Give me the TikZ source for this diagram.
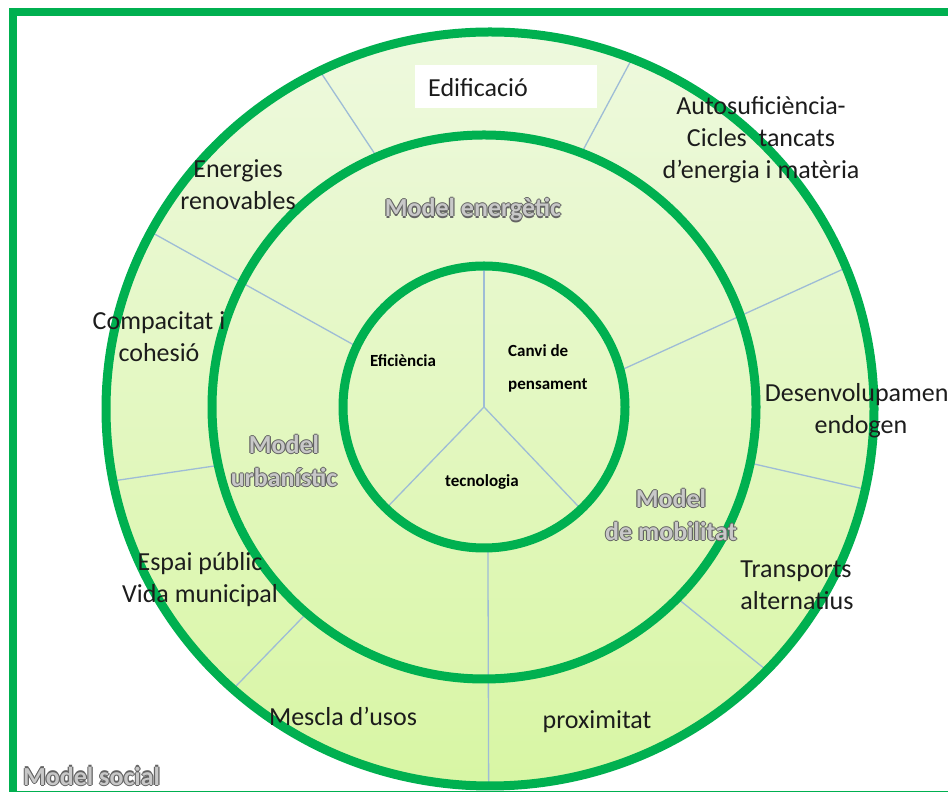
\documentclass[tikz,border=0pt]{standalone}
\usepackage{fontspec}
\setmainfont{Carlito}
\usetikzlibrary{calc}

\definecolor{ringgreen}{RGB}{0,176,80}
\definecolor{splitblue}{RGB}{158,188,214}
\definecolor{palegreen}{RGB}{238,249,222}
\definecolor{limegreen}{RGB}{216,246,164}
\definecolor{rimgray}{RGB}{100,100,100}
\definecolor{hollowgray}{RGB}{200,200,200}
\definecolor{inkblack}{RGB}{28,28,28}

% grey letters with a darker rim
\newcommand\hollow[1]{%
  \leavevmode
  \rlap{\textcolor{rimgray}{\kern-1.2pt#1}}%
  \rlap{\textcolor{rimgray}{\kern1.2pt#1}}%
  \rlap{\textcolor{rimgray}{\raisebox{1.2pt}{#1}}}%
  \rlap{\textcolor{rimgray}{\raisebox{-1.2pt}{#1}}}%
  \textcolor{hollowgray}{#1}}

\tikzset{
  ring/.style={draw=ringgreen, line width=9pt},
  split/.style={draw=splitblue, line width=1.3pt},
  tag/.style={font=\fontsize{26}{32}\selectfont, text=inkblack, align=center, inner sep=0pt},
  coretag/.style={font=\bfseries\fontsize{17}{33}\selectfont, text=black, align=center, inner sep=0pt},
  modeltag/.style={font=\bfseries\fontsize{26}{33}\selectfont, align=center, inner sep=0pt}
}

\begin{document}
\begin{tikzpicture}[x=1pt,y=1pt]
        \useasboundingbox (0,0) rectangle (948,792);
        \clip (0,0) rectangle (948,792);
        \coordinate (O) at (484,385);
        \coordinate (Oout) at (490,383);
        % frame and filled disc
        \draw[ring, line width=8pt] (13,-3) rectangle (990,780);
        \fill[top color=palegreen, bottom color=limegreen] (Oout) ellipse [x radius=384, y radius=377];
        % splits of the outer ring
        \foreach \a/\b in {113.2/116.3, 69/68.3, 192.4/191, -11.9/-12.3, 229.3/228, -44.7/-43.9}
          \draw[split] ($(O)+(\a:272)$) -- ($(Oout)+(\b:384 and 377)$);
        % splits running through both rings
        \foreach \a/\b in {154.6/152, 15/22, -88.4/-90.2}
          \draw[split] ($(O)+(\a:141)$) -- ($(Oout)+(\b:384 and 377)$);
        % split of the core
        \foreach \a in {90, 226, -46.5}
          \draw[split] (O) -- ++(\a:141);
        % the three rings
        \draw[ring] (Oout) ellipse [x radius=384, y radius=377];
        \draw[ring] (O) circle (272);
        \draw[ring] (O) circle (141);
        % outer ring texts
        \fill[white] (415,684) rectangle (597,727);
        \node[tag] (edif) at (478,704) {Edificació};
        \node[tag] (auto) at (761,652) {Autosuficiència-\\Cicles~ tancats\\d’energia i matèria};
        \node[tag] (ener) at (238,607) {Energies\\renovables};
        \node[tag] (comp) at (159,455) {Compacitat i\\cohesió};
        \node[tag] (dese) at (861,381) {Desenvolupament\\endogen};
        \node[tag, align=left] (tran) at (797,207) {Transports\\alternatius};
        \node[tag] (prox) at (597,70) {proximitat};
        \node[tag] (mesc) at (343,76) {Mescla d’usos};
        \node[tag] (espa) at (200,212) {Espai públic\\Vida municipal};
        % model names
        \node[modeltag] (menergia) at (473,582) {\hollow{Model energètic}};
        \node[modeltag] (murba) at (284,331) {\hollow{Model}\\\hollow{urbanístic}};
        \node[modeltag] (mmobi) at (671,277) {\hollow{Model}\\\hollow{de mobilitat}};
        \node[modeltag, anchor=west] (msoci) at (23,16) {\hollow{Model social}};
        % core texts
        \node[coretag] (efic) at (403,431) {Eficiència};
        \node[coretag, align=left, anchor=west] (canv) at (508,424) {Canvi de\\pensament};
        \node[coretag] (tecn) at (482,310) {tecnologia};
\end{tikzpicture}
\end{document}
